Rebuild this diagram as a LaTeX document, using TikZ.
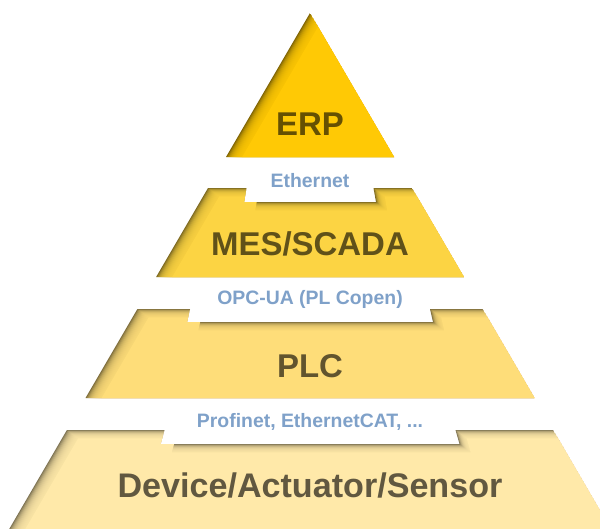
\documentclass[tikz,border=0pt]{standalone}
\usepackage{fontspec}
\setmainfont{Liberation Sans}
\usepackage{tikz}
\usetikzlibrary{positioning}

\definecolor{erpgold}{HTML}{FFC905}
\definecolor{mesgold}{HTML}{FCD443}
\definecolor{plcgold}{HTML}{FEDD79}
\definecolor{devgold}{HTML}{FFE9A9}
\definecolor{linkblue}{HTML}{7FA1C9}

% one pyramid layer: fill, with a soft inner shadow on its left and top edges
\newcommand{\pyrlayer}[2]{%
  \begin{scope}
    \clip #2;
    \fill[#1!50!black] #2;
    \foreach \i in {1,...,13}
      \fill[#1, opacity=0.22, shift={(0.8*\i,0.6*\i)}] #2;
    \fill[#1, shift={(11.2,8.4)}] #2;
  \end{scope}}

\begin{document}
\begin{tikzpicture}[
    x=0.85pt, y=-0.85pt,
    layer/.style = {font=\fontsize{28}{30}\selectfont\bfseries, anchor=base, inner sep=0pt},
    link/.style  = {font=\fontsize{16.5}{18}\selectfont\bfseries, text=linkblue,
                    anchor=base, inner sep=0pt},
]
\clip (0,0) rectangle (600,528);
\fill[white] (0,0) rectangle (600,528);

% ---------------- layers ----------------
\pyrlayer{erpgold}{(310,13) -- (394,157) -- (226,157) -- cycle}
\pyrlayer{mesgold}{(208,188) -- (246.5,188) -- (244,202) -- (376,202) -- (373.5,188)
    -- (412,188) -- (463.9,277) -- (156.1,277) -- cycle}
\pyrlayer{plcgold}{(137.4,309) -- (190,309) -- (187,322) -- (433,322) -- (430,309)
    -- (482.6,309) -- (534.5,398) -- (85.5,398) -- cycle}
\pyrlayer{devgold}{(66.9,430) -- (164.5,430) -- (160.5,444) -- (459.5,444) -- (455.5,430)
    -- (553.1,430) -- (617.2,540) -- (2.8,540) -- cycle}

% ---------------- layer names ----------------
\node[layer, text=erpgold!40!black] (erp) at (310,135) {ERP};
\node[layer, text=mesgold!38!black] (mes) at (310,255) {MES/SCADA};
\node[layer, text=plcgold!38!black] (plc) at (310,377) {PLC};
\node[layer, text=devgold!38!black, font=\fontsize{29}{31}\selectfont\bfseries]
    (dev) at (310,497) {Device/Actuator/Sensor};

% ---------------- links between layers ----------------
\node[link] (eth) at (310,187) {Ethernet};
\node[link] (opc) at (310,304) {OPC-UA (PL Copen)};
\node[link] (fb)  at (310,427) {Profinet, EthernetCAT, ...};

\end{tikzpicture}
\end{document}
